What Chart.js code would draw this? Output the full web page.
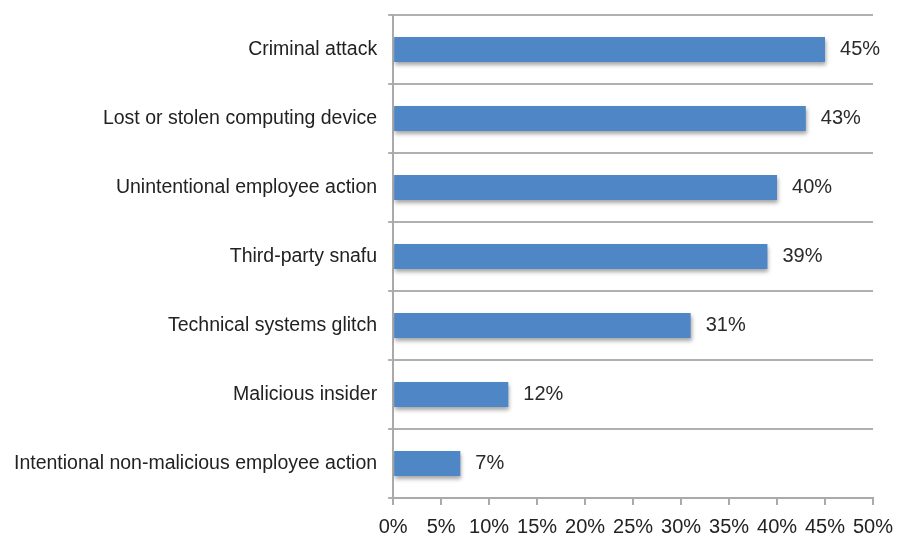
<!DOCTYPE html>
<html>
<head>
<meta charset="utf-8">
<script src="https://cdn.jsdelivr.net/npm/chart.js@4"></script>
<style>
  html, body { margin: 0; padding: 0; background: #fff; }
  #wrap { width: 907px; height: 537px; }
</style>
</head>
<body>
<div id="wrap"><canvas id="chart_causes"></canvas></div>
<script>
var categories = [
    'Criminal attack',
    'Lost or stolen computing device',
    'Unintentional employee action',
    'Third-party snafu',
    'Technical systems glitch',
    'Malicious insider',
    'Intentional non-malicious employee action'
];
var percentValues = [45, 43, 40, 39, 31, 12, 7];
var tickValues = [0, 5, 10, 15, 20, 25, 30, 35, 40, 45, 50];

// soft drop shadow under the bars
var barShadow = {
    id: 'barShadow',
    beforeDatasetsDraw: function(chart) {
        var ctx = chart.ctx;
        ctx.save();
        ctx.shadowColor = 'rgba(0,0,0,0.35)';
        ctx.shadowBlur = 4;
        ctx.shadowOffsetX = 1;
        ctx.shadowOffsetY = 3;
    },
    afterDatasetsDraw: function(chart) {
        chart.ctx.restore();
    }
};

// value labels to the right of each bar
var valueLabels = {
    id: 'valueLabels',
    afterDatasetsDraw: function(chart) {
        var ctx = chart.ctx;
        var meta = chart.getDatasetMeta(0);
        ctx.save();
        ctx.font = '20px "Liberation Sans", Arial, sans-serif';
        ctx.fillStyle = '#2a2a2a';
        ctx.textBaseline = 'middle';
        ctx.textAlign = 'left';
        meta.data.forEach(function(bar, i) {
            ctx.fillText(percentValues[i] + '%', bar.x + 15, bar.y);
        });
        ctx.restore();
    }
};

document.chartCauses = new Chart(document.getElementById('chart_causes'), {
    type: 'bar',
    data: {
        labels: categories,
        datasets: [{
            data: percentValues,
            backgroundColor: '#4f86c6',
            borderWidth: 0,
            categoryPercentage: 1,
            barPercentage: 0.36
        }]
    },
    options: {
        indexAxis: 'y',
        responsive: true,
        maintainAspectRatio: false,
        animation: false,
        layout: {
            padding: { top: 15, right: 34, left: 3, bottom: -12 }
        },
        scales: {
            x: {
                min: 0,
                max: 50,
                afterBuildTicks: function(axis) {
                    axis.ticks = tickValues.map(function(v) { return { value: v }; });
                },
                grid: {
                    drawOnChartArea: false,
                    drawTicks: true,
                    tickLength: 7,
                    color: '#aaa',
                    lineWidth: 2
                },
                border: { display: true, color: '#aaa', width: 2 },
                ticks: {
                    padding: 10,
                    color: '#222',
                    maxRotation: 0,
                    font: { family: '"Liberation Sans", Arial, sans-serif', size: 20 },
                    callback: function(value) {
                        return value + '%';
                    }
                }
            },
            y: {
                offset: true,
                afterFit: function(axis) {
                    // labels sit between gridlines, no extra room needed above/below
                    axis.paddingTop = 0;
                    axis.paddingBottom = 0;
                },
                grid: {
                    offset: true,
                    color: '#b0b0b0',
                    lineWidth: 2,
                    tickLength: 5
                },
                border: { display: true, color: '#aaa', width: 2 },
                ticks: {
                    padding: 11,
                    color: '#222',
                    font: { family: '"Liberation Sans", Arial, sans-serif', size: 19.5 }
                }
            }
        },
        plugins: {
            legend: { display: false },
            tooltip: { enabled: false }
        }
    },
    plugins: [barShadow, valueLabels]
});
</script>
</body>
</html>
